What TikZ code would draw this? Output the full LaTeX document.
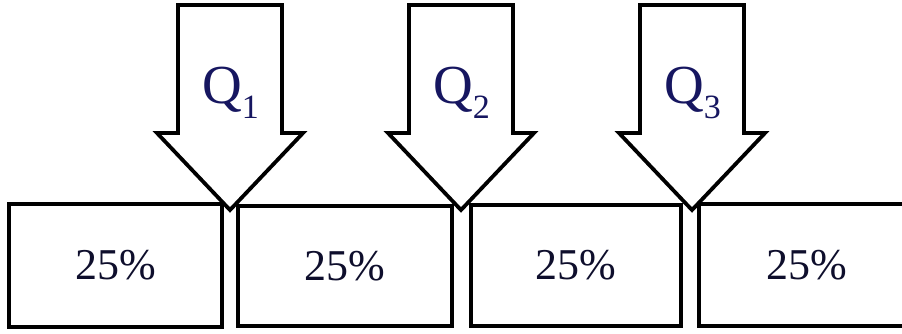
\documentclass[tikz,border=0pt]{standalone}
\usepackage{fontspec}
\setmainfont{Liberation Serif}
\definecolor{inknavy}{RGB}{22,22,96}
\definecolor{inkdark}{RGB}{14,14,44}
\begin{document}
\begin{tikzpicture}[x=1pt,y=-1pt,
  part/.style={draw=black,line width=3.2pt,fill=white,inner sep=0pt,
    font=\fontsize{44}{44}\selectfont,text=inkdark},
  quartarrow/.style={draw=black,line width=3.8pt,fill=white,line join=miter},
  qlabel/.style={inner sep=0pt,anchor=base west,text=inknavy,
    font=\fontsize{55}{55}\selectfont}]
\useasboundingbox (0,0) rectangle (902,333);
\fill[white] (0,0) rectangle (902,333);

% the four equal parts
\node[part,minimum width=213pt,minimum height=123pt] (p1) at (115.5,265.5) {25\%};
\node[part,minimum width=214pt,minimum height=120pt] (p2) at (345,266) {25\%};
\node[part,minimum width=210pt,minimum height=121pt] (p3) at (576,265.5) {25\%};
\node[part,minimum width=216pt,minimum height=122pt] (p4) at (807,265) {25\%};

% the three quartile arrows, drawn over the box corners
\foreach \c/\i in {230/1,461/2,692/3}{
  \draw[quartarrow] (\c-52,5) -- (\c+52,5) -- (\c+52,133) -- (\c+73,133)
    -- (\c,210) -- (\c-73,133) -- (\c-52,133) -- cycle;
  \node[qlabel] (q\i) at (\c-28,103)
    {Q{\fontsize{34}{34}\selectfont\raisebox{-15pt}{\i}}};
}
\end{tikzpicture}
\end{document}
